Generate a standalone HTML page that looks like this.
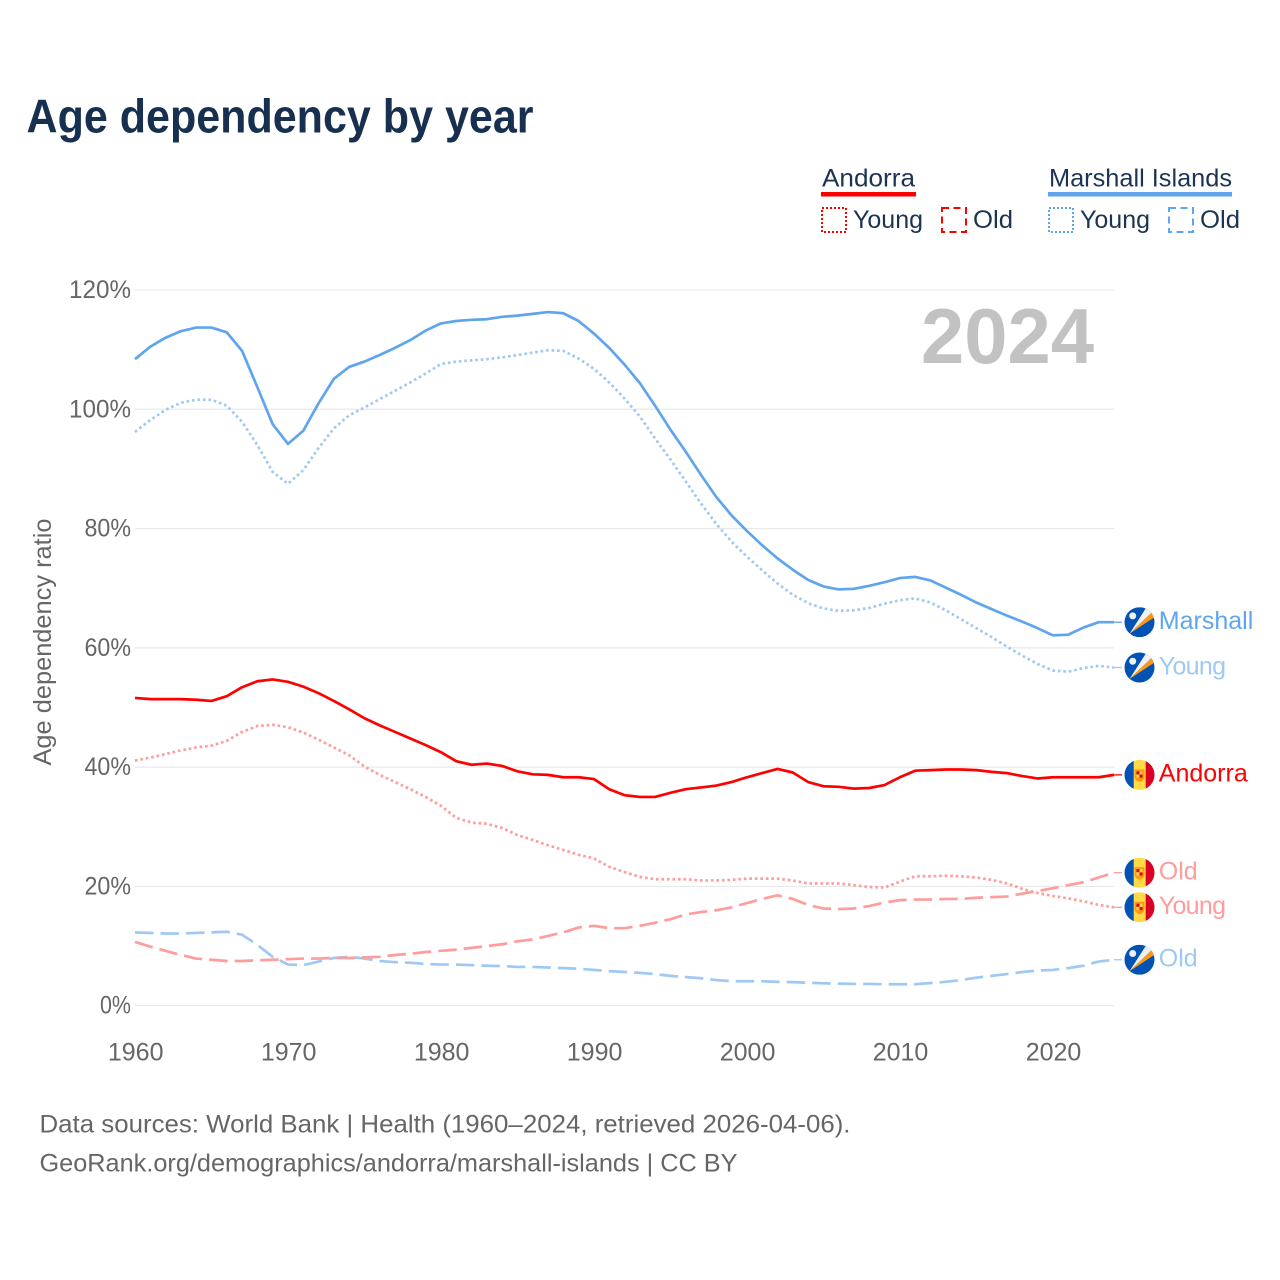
<!DOCTYPE html>
<html lang="en">
<head>
<meta charset="utf-8">
<title>Age dependency by year</title>
<style>
html,body{margin:0;padding:0;background:#fff;}
body{width:1280px;height:1280px;overflow:hidden;}
svg{display:block;font-family:"Liberation Sans",sans-serif;}
.legend-text{font-size:25px;fill:#1c3454;}
.tick{font-size:25px;fill:#666;}
.foot{font-size:25px;fill:#666;}
</style>
</head>
<body>
<svg id="chart" xmlns="http://www.w3.org/2000/svg" width="1280" height="1280" viewBox="0 0 1280 1280">
  <rect width="1280" height="1280" fill="#fff"/>
  <text x="26.5" y="132.5" font-size="47" font-weight="700" fill="#17304f" textLength="507" lengthAdjust="spacingAndGlyphs">Age dependency by year</text>

  <g>
    <text class="legend-text" x="822" y="186.5" textLength="93" lengthAdjust="spacingAndGlyphs">Andorra</text>
    <rect x="821" y="192" width="95" height="4.5" fill="#ff0000"/>
    <rect x="822" y="208" width="24" height="24" fill="none" stroke="#ff0000" stroke-width="2" stroke-dasharray="2 2"/>
    <text class="legend-text" x="853" y="228" textLength="70" lengthAdjust="spacingAndGlyphs">Young</text>
    <rect x="942" y="208" width="24" height="24" fill="none" stroke="#ff0000" stroke-width="2" stroke-dasharray="7 4.5"/>
    <text class="legend-text" x="973" y="228" textLength="40" lengthAdjust="spacingAndGlyphs">Old</text>
    <text class="legend-text" x="1049" y="186.5" textLength="183" lengthAdjust="spacingAndGlyphs">Marshall Islands</text>
    <rect x="1048" y="192" width="184" height="4.5" fill="#5fa5ee"/>
    <rect x="1049" y="208" width="24" height="24" fill="none" stroke="#5fa5ee" stroke-width="2" stroke-dasharray="2 2"/>
    <text class="legend-text" x="1080" y="228" textLength="70" lengthAdjust="spacingAndGlyphs">Young</text>
    <rect x="1169" y="208" width="24" height="24" fill="none" stroke="#5fa5ee" stroke-width="2" stroke-dasharray="7 4.5"/>
    <text class="legend-text" x="1200" y="228" textLength="40" lengthAdjust="spacingAndGlyphs">Old</text>
  </g>

  <text class="tick" transform="translate(51,642) rotate(-90)" text-anchor="middle" textLength="247" lengthAdjust="spacingAndGlyphs">Age dependency ratio</text>

  <g id="grid"></g>
  <g id="yticks"></g>
  <g id="xticks"></g>

  <text x="921" y="363" font-size="78" font-weight="700" fill="#c2c2c2" textLength="173" lengthAdjust="spacingAndGlyphs">2024</text>

  <g id="series"></g>
  <g id="ends"></g>

  <text class="foot" x="39.5" y="1132.5" textLength="811" lengthAdjust="spacingAndGlyphs">Data sources: World Bank | Health (1960–2024, retrieved 2026-04-06).</text>
  <text class="foot" x="39.5" y="1171.5" textLength="698" lengthAdjust="spacingAndGlyphs">GeoRank.org/demographics/andorra/marshall-islands | CC BY</text>
</svg>

<script>
const years = [1960,1961,1962,1963,1964,1965,1966,1967,1968,1969,
  1970,1971,1972,1973,1974,1975,1976,1977,1978,1979,
  1980,1981,1982,1983,1984,1985,1986,1987,1988,1989,
  1990,1991,1992,1993,1994,1995,1996,1997,1998,1999,
  2000,2001,2002,2003,2004,2005,2006,2007,2008,2009,
  2010,2011,2012,2013,2014,2015,2016,2017,2018,2019,
  2020,2021,2022,2023,2024];

const marshallTotal = [108.4,110.5,112,113.1,113.7,113.7,112.9,109.8,103.7,97.5,
  94.2,96.4,101,105.1,107.1,108,109.1,110.3,111.6,113.2,
  114.4,114.8,115,115.1,115.5,115.7,116,116.3,116.1,114.8,
  112.7,110.3,107.5,104.4,100.6,96.6,92.9,89,85.3,82.2,
  79.6,77.2,75,73.1,71.4,70.3,69.8,69.9,70.4,71,
  71.7,71.9,71.3,70.1,68.9,67.6,66.5,65.4,64.4,63.3,
  62.1,62.2,63.4,64.3,64.3];

const marshallYoung = [96.2,98.2,99.9,101.1,101.6,101.6,100.6,97.9,94,89.5,
  87.5,89.8,93.5,96.8,99,100.3,101.7,103.1,104.5,106,
  107.6,108,108.2,108.4,108.7,109.1,109.5,109.9,109.8,108.5,
  106.8,104.5,101.8,98.8,95.1,91.6,87.9,84.2,80.8,77.8,
  75.3,73,70.8,68.9,67.5,66.6,66.2,66.3,66.7,67.4,
  68,68.3,67.6,66.3,64.8,63.3,61.8,60.2,58.7,57.3,
  56.2,56,56.6,57,56.7];

const marshallOld = [12.3,12.2,12.1,12.1,12.2,12.3,12.4,11.9,10.2,8.2,
  6.9,6.8,7.4,8,8.2,7.9,7.5,7.3,7.2,7,
  6.9,6.9,6.8,6.7,6.65,6.5,6.5,6.4,6.3,6.2,
  6,5.8,5.65,5.5,5.3,5,4.8,4.6,4.3,4.1,
  4.1,4.1,4,3.95,3.85,3.75,3.7,3.65,3.65,3.6,
  3.6,3.6,3.8,4,4.3,4.7,5,5.3,5.65,5.9,
  6,6.3,6.7,7.4,7.7];

const andorraTotal = [51.6,51.4,51.4,51.4,51.3,51.1,51.9,53.4,54.4,54.7,
  54.3,53.5,52.4,51.1,49.7,48.2,47,45.9,44.8,43.7,
  42.5,41,40.4,40.6,40.2,39.3,38.8,38.7,38.3,38.3,
  38,36.3,35.3,35,35,35.7,36.3,36.6,36.9,37.5,
  38.3,39,39.7,39.1,37.5,36.8,36.7,36.4,36.5,37,
  38.3,39.4,39.5,39.6,39.6,39.5,39.2,39,38.5,38.1,
  38.3,38.3,38.3,38.3,38.7];

const andorraYoung = [41.1,41.6,42.2,42.8,43.3,43.6,44.4,45.9,46.9,47.1,
  46.7,45.8,44.6,43.3,42,40.1,38.7,37.5,36.3,35,
  33.5,31.5,30.7,30.5,29.8,28.6,27.8,26.9,26.1,25.3,
  24.7,23.3,22.4,21.6,21.2,21.2,21.2,21,21,21.1,
  21.3,21.3,21.3,21,20.5,20.5,20.5,20.2,19.9,19.8,
  20.8,21.7,21.7,21.8,21.7,21.5,21.1,20.5,19.6,18.9,
  18.4,18,17.5,16.9,16.5];

const andorraOld = [10.7,9.9,9.2,8.5,7.9,7.7,7.5,7.5,7.6,7.7,
  7.8,7.9,7.9,8,8,8.1,8.2,8.5,8.7,9,
  9.2,9.4,9.7,10,10.3,10.8,11.1,11.7,12.3,13.1,
  13.4,13,13,13.4,13.9,14.5,15.3,15.7,16,16.5,
  17.2,17.9,18.5,17.9,16.9,16.3,16.2,16.3,16.7,17.3,
  17.7,17.8,17.8,17.9,17.9,18.1,18.2,18.3,18.8,19.2,
  19.7,20.2,20.7,21.5,22.3];

const yTickValues = [0,20,40,60,80,100,120];
const yTickLabels = ['0%','20%','40%','60%','80%','100%','120%'];
const xTickValues = [1960,1970,1980,1990,2000,2010,2020];
const xTickLabels = ['1960','1970','1980','1990','2000','2010','2020'];

const SVGNS = 'http://www.w3.org/2000/svg';
const plotLeft = 135, plotRight = 1114, plotBottom = 1005.7, plotTop = 290;

function xScale(year) {
  return plotLeft + (year - 1960) * (plotRight - plotLeft) / (2024 - 1960);
}
function yScale(value) {
  return plotBottom - value * (plotBottom - plotTop) / 120;
}
function make(tag, attrs, parent) {
  const node = document.createElementNS(SVGNS, tag);
  for (const key in attrs) node.setAttribute(key, attrs[key]);
  parent.appendChild(node);
  return node;
}

const gridGroup = document.getElementById('grid');
const yTickGroup = document.getElementById('yticks');
const xTickGroup = document.getElementById('xticks');
const seriesGroup = document.getElementById('series');
const endGroup = document.getElementById('ends');

yTickValues.forEach(function (value, i) {
  const line = make('line', {x1: plotLeft, x2: plotRight, y1: yScale(value), y2: yScale(value), stroke: '#e9e9e9', 'stroke-width': 1.2}, gridGroup);
  
  
  const label = make('text', {x: 131, y: yScale(value) + 8, 'text-anchor': 'end', class: 'tick', textLength: yTickLabels[i].length * 15.5, lengthAdjust: 'spacingAndGlyphs'}, yTickGroup);
  label.textContent = yTickLabels[i];
  
  
});

xTickValues.forEach(function (year, i) {
  const label = make('text', {x: xScale(year) + 0.7, y: 1060.5, 'text-anchor': 'middle', class: 'tick'}, xTickGroup);
  label.textContent = xTickLabels[i];
  
  
});

function drawFlag(country, cy, parent, clipId) {
  const cx = 1139.5;
  const flag = make('g', {transform: 'translate(' + cx + ',' + cy + ')'}, parent);
  
  
  const clip = make('clipPath', {id: clipId}, flag);
  make('circle', {cx: 0, cy: 0, r: 15}, clip);
  const body = make('g', {'clip-path': 'url(#' + clipId + ')'}, flag);
  if (country === 'andorra') {
    make('rect', {x: -15, y: -15, width: 30, height: 30, fill: '#ffda44'}, body);
    make('rect', {x: -15, y: -15, width: 9.2, height: 30, fill: '#0052b4'}, body);
    make('rect', {x: 6.2, y: -15, width: 9, height: 30, fill: '#d80027'}, body);
    make('path', {d: 'M-5,-5.5 H5 V1.5 Q5,5.5 0,7 Q-5,5.5 -5,1.5 Z', fill: '#ff9811'}, body);
    make('rect', {x: -3, y: -3.6, width: 3, height: 3.2, fill: '#d80027'}, body);
    make('rect', {x: 0, y: -0.4, width: 3, height: 3.2, fill: '#d80027'}, body);
    make('rect', {x: 0, y: -3.6, width: 3, height: 3.2, fill: '#ffda44'}, body);
    make('rect', {x: -3, y: -0.4, width: 3, height: 3.2, fill: '#ffda44'}, body);
  } else {
    make('rect', {x: -15, y: -15, width: 30, height: 30, fill: '#0052b4'}, body);
    make('path', {d: 'M-10,11.5 L7,-15 L12.5,-10 Z', fill: '#f0f0f0'}, body);
    make('path', {d: 'M-10,11.5 L12.5,-10 L15,-5 Z', fill: '#ff9811'}, body);
    make('circle', {cx: -6.8, cy: -6.3, r: 3.5, fill: '#f0f0f0'}, body);
  }
}

function drawSeries(values, name, color, dash, width, country, label, labelColor, leaderOpacity) {
  const points = years.map(function (year, i) {
    return xScale(year).toFixed(2) + ',' + yScale(values[i]).toFixed(2);
  }).join(' ');
  const line = make('polyline', {points: points, fill: 'none', stroke: color, 'stroke-width': width, 'stroke-linejoin': 'round'}, seriesGroup);
  if (dash) line.setAttribute('stroke-dasharray', dash);
  
  

  const last = values[values.length - 1];
  const cy = yScale(last);
  const leader = make('line', {x1: plotRight, x2: 1122, y1: cy, y2: cy, stroke: color, 'stroke-width': 1.3, opacity: leaderOpacity}, endGroup);
  
  

  drawFlag(country, cy, endGroup, 'clip-' + name);

  const text = make('text', {x: 1158.8, y: cy + 6.8, 'font-size': 25, fill: labelColor}, endGroup);
  text.textContent = label;
  if (label === 'Young') text.setAttribute('letter-spacing', '-0.7');
  
  
}

const dotted = '2.6 2.9';
const dashed = '18.5 7';
drawSeries(marshallOld, 'marshall-old', '#9fc9f3', dashed, 2.7, 'marshall', 'Old', '#9fc9f3', 1);
drawSeries(andorraOld, 'andorra-old', '#ff9c9c', dashed, 2.7, 'andorra', 'Old', '#ff9c9c', 1);
drawSeries(andorraYoung, 'andorra-young', '#ff9c9c', dotted, 2.7, 'andorra', 'Young', '#ff9c9c', 1);
drawSeries(marshallYoung, 'marshall-young', '#9fc9f3', dotted, 2.7, 'marshall', 'Young', '#9fc9f3', 1);
drawSeries(andorraTotal, 'andorra-total', '#ff0000', '', 2.7, 'andorra', 'Andorra', '#ff0000', 1);
drawSeries(marshallTotal, 'marshall-total', '#5fa5ee', '', 2.7, 'marshall', 'Marshall', '#5fa5ee', 1);
</script>
</body>
</html>
